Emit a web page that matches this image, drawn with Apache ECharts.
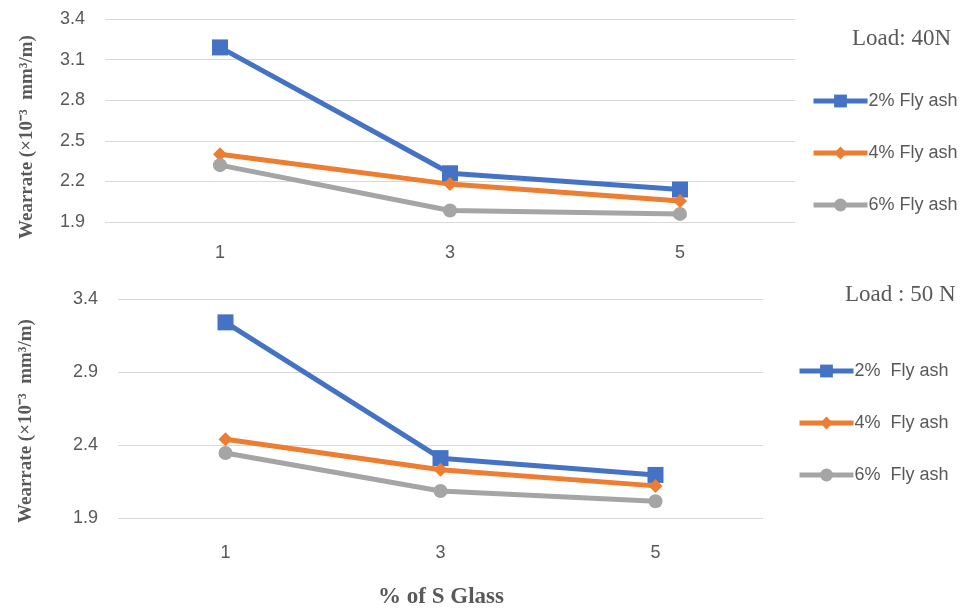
<!DOCTYPE html>
<html>
<head>
<meta charset="utf-8">
<script src="https://cdn.jsdelivr.net/npm/echarts@6/dist/echarts.min.js"></script>
<style>html,body{margin:0;padding:0;background:#fff;}#c{width:972px;height:613px;}</style>
</head>
<body>
<div id="c"></div>
<script>
const categories = ['1', '3', '5'];
const top2 = [3.19, 2.26, 2.14];
const top4 = [2.40, 2.18, 2.055];
const top6 = [2.32, 1.985, 1.96];
const bot2 = [3.24, 2.31, 2.195];
const bot4 = [2.44, 2.23, 2.12];
const bot6 = [2.345, 2.085, 2.015];
const topNames = ['2% Fly ash', '4% Fly ash', '6% Fly ash'];
const botNames = ['2%  Fly ash', '4%  Fly ash', '6%  Fly ash'];
const topTitle = 'Load: 40N';
const botTitle = 'Load : 50 N';
const yTitle = 'Wearrate (×10⁻³  mm³/m)';
const xTitle = '% of S Glass';

const colors = ['#4472C4', '#ED7D31', '#A5A5A5'];
const symbols = ['rect', 'diamond', 'circle'];
const symSizes = [16, 14, 14];
const sansFont = "'Liberation Sans Narrow', 'Liberation Sans', Arial, sans-serif";
const serifFont = "'Liberation Serif', 'Times New Roman', serif";

const chart = echarts.init(document.getElementById('c'));

function mkSeries(names, datas, idx) {
  return names.map((n, i) => ({
    name: n, type: 'line', xAxisIndex: idx, yAxisIndex: idx,
    data: datas[i], symbol: symbols[i], symbolSize: symSizes[i],
    lineStyle: { width: 5, color: colors[i] },
    itemStyle: { color: colors[i] },
    animation: false
  }));
}

function xAx(idx, margin) {
  return {
    type: 'category', gridIndex: idx, data: categories,
    axisLine: { show: false }, axisTick: { show: false },
    axisLabel: { color: '#595959', fontSize: 18, fontFamily: sansFont, margin: margin }
  };
}
function yAx(idx, interval) {
  return {
    type: 'value', gridIndex: idx, min: 1.9, max: 3.4, interval: interval,
    axisLine: { show: false }, axisTick: { show: false },
    splitLine: { lineStyle: { color: '#D9D9D9', width: 1.2 } },
    axisLabel: { color: '#595959', fontSize: 18, fontFamily: sansFont, margin: 20,
      formatter: v => v.toFixed(1) }
  };
}

function lg(names, left, top) {
  return { data: names, orient: 'vertical', left: left, top: top, itemWidth: 54, itemHeight: 16,
    itemGap: 34, lineStyle: { width: 5 },
    textStyle: { color: '#595959', fontSize: 18, fontFamily: sansFont, padding: [0, 0, 0, -4] } };
}

chart.setOption({
  backgroundColor: '#fff',
  animation: false,
  grid: [
    { left: 105, width: 690, top: 19, height: 203 },
    { left: 118, width: 645, top: 299, height: 219 }
  ],
  xAxis: [xAx(0, 22), xAx(1, 26)],
  yAxis: [yAx(0, 0.3), yAx(1, 0.5)],
  legend: [lg(topNames, 806, 87), lg(botNames, 792, 357)],
  graphic: [
    { type: 'text', left: 852, top: 27, style: { text: topTitle, fill: '#595959', font: '23px ' + serifFont } },
    { type: 'text', left: 845, top: 283, style: { text: botTitle, fill: '#595959', font: '23px ' + serifFont } },
    { type: 'text', x: 27, y: 137, rotation: Math.PI / 2,
      style: { text: yTitle, fill: '#595959', font: 'bold 19px ' + serifFont, align: 'center', verticalAlign: 'middle' } },
    { type: 'text', x: 26, y: 421, rotation: Math.PI / 2,
      style: { text: yTitle, fill: '#595959', font: 'bold 19px ' + serifFont, align: 'center', verticalAlign: 'middle' } },
    { type: 'text', x: 441, y: 597,
      style: { text: xTitle, fill: '#595959', font: 'bold 23px ' + serifFont, align: 'center', verticalAlign: 'middle' } }
  ],
  series: [].concat(mkSeries(topNames, [top2, top4, top6], 0), mkSeries(botNames, [bot2, bot4, bot6], 1))
});
</script>
</body>
</html>
